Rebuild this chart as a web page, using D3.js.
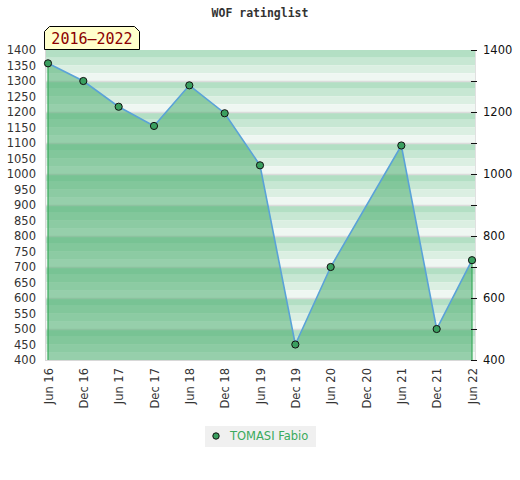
<!DOCTYPE html>
<html><head><meta charset="utf-8">
<script src="https://cdn.jsdelivr.net/npm/d3@7/dist/d3.min.js"></script>
<style>body{margin:0;background:#fff}svg{display:block}</style>
</head><body>
<svg id="c" width="520" height="480"></svg>
<script>
const title = "WOF ratinglist";
const periodLabel = "2016\u20132022";
const seriesName = "TOMASI Fabio";
const categories = ["Jun 16","Dec 16","Jun 17","Dec 17","Jun 18","Dec 18","Jun 19","Dec 19","Jun 20","Dec 20","Jun 21","Dec 21","Jun 22"];
const ratings = [1357,1300,1217,1155,1286,1196,1028,450,700,null,1092,500,722];
const leftTicks = d3.range(400,1401,50);
const rightTicks = d3.range(400,1401,100);
const rightLabels = [400,600,800,1000,1200,1400];
const bandColors = ["#b3dfc4","#c7e7d3","#dbefe2","#eff7f2"];

const svg = d3.select("#c");
const L=45, R=475, T=50, B=360;
const x = d3.scalePoint().domain(categories).range([48,472]);
const y = d3.scaleLinear().domain([400,1400]).range([B,T]);

// title
svg.append("text").attr("x",260).attr("y",17).attr("text-anchor","middle")
  .attr("font-family","DejaVu Sans Mono").attr("font-weight","bold").attr("font-size",11.5)
  .attr("fill","#333").text(title);

// background bands
const g = svg.append("g");
d3.range(400,1400,100).forEach(base=>{
  bandColors.forEach((c,i)=>{
    const top = base+100-25*i, bot = base+100-25*(i+1);
    g.append("rect").attr("x",L).attr("width",R-L).attr("y",y(top)).attr("height",y(bot)-y(top)).attr("fill",c);
  });
});
d3.range(500,1400,100).forEach(v=>{
  g.append("line").attr("x1",L).attr("x2",R).attr("y1",Math.round(y(v))+0.5).attr("y2",Math.round(y(v))+0.5)
   .attr("stroke","#dcdcdc").attr("stroke-width",1.5);
});
// border
g.append("line").attr("x1",L+0.5).attr("x2",L+0.5).attr("y1",T).attr("y2",B).attr("stroke","#d8d8d8");
g.append("line").attr("x1",L).attr("x2",R+1).attr("y1",B+0.5).attr("y2",B+0.5).attr("stroke","#d8d8d8");
g.append("line").attr("x1",R+0.5).attr("x2",R+0.5).attr("y1",T).attr("y2",B).attr("stroke","#e0e0e0");

const pts = categories.map((c,i)=>({c, v:ratings[i]})).filter(d=>d.v!==null);

// area
const area = d3.area().x(d=>x(d.c)).y0(B).y1(d=>y(d.v));
svg.append("path").datum(pts).attr("d",area).attr("fill","rgba(62,168,100,0.5)");
// side edges
[pts[0], pts[pts.length-1]].forEach(d=>{
  svg.append("line").attr("x1",x(d.c)).attr("x2",x(d.c)).attr("y1",y(d.v)).attr("y2",B)
    .attr("stroke","#3aaa5c").attr("stroke-width",1.2);
});
// line
const line = d3.line().x(d=>x(d.c)).y(d=>y(d.v));
svg.append("path").datum(pts).attr("d",line).attr("fill","none").attr("stroke","#5aa2d8").attr("stroke-width",1.6);
// markers
svg.selectAll("circle.m").data(pts).enter().append("circle").attr("class","m")
  .attr("cx",d=>x(d.c)).attr("cy",d=>y(d.v)).attr("r",3.6)
  .attr("fill","#3a9f5f").attr("stroke","#111").attr("stroke-width",1);

// left axis
const la = svg.append("g").attr("transform",`translate(${L},0)`)
  .call(d3.axisLeft(y).tickValues(leftTicks).tickSize(0).tickPadding(9).tickFormat(d3.format("d")));
la.select(".domain").remove();
la.selectAll("text").attr("font-family","DejaVu Sans").attr("font-size",11.5).attr("fill","#333");

// right axis
const ra = svg.append("g").attr("transform",`translate(${R-1},0)`)
  .call(d3.axisRight(y).tickValues(rightTicks).tickSize(3).tickPadding(6)
    .tickFormat(v=>rightLabels.includes(v)?d3.format("d")(v):""));
ra.select(".domain").remove();
ra.selectAll("line").attr("x1",-3).attr("stroke","#111");
ra.selectAll("text").attr("font-family","DejaVu Sans").attr("font-size",11.5).attr("fill","#111");

// bottom axis
const ba = svg.append("g").attr("transform",`translate(0,${B})`)
  .call(d3.axisBottom(x).tickSize(0).tickPadding(0));
ba.select(".domain").remove();
ba.selectAll("text").attr("font-family","DejaVu Sans").attr("font-size",11.5).attr("fill","#333")
  .attr("text-anchor","end").attr("transform","rotate(-90)").attr("x",-8).attr("y",0).attr("dy","0.35em");

// period box
const bx=44.5, by=26.5, bw=95, bh=23, cut=5;
svg.append("path").attr("d",`M${bx},${by+bh}V${by+cut}L${bx+cut},${by}H${bx+bw-cut}L${bx+bw},${by+cut}V${by+bh}Z`)
  .attr("fill","#ffffcc").attr("stroke","#000").attr("stroke-width",1);
svg.append("text").attr("x",bx+bw/2).attr("y",by+17).attr("text-anchor","middle")
  .attr("font-family","DejaVu Sans Mono").attr("font-size",15).attr("fill","#8b0000").text(periodLabel);

// legend
const lg = svg.append("g");
lg.append("rect").attr("x",205).attr("y",426).attr("width",111).attr("height",21).attr("fill","#f0f0f0");
lg.append("circle").attr("cx",216).attr("cy",436).attr("r",3.2).attr("fill","#3a9f5f").attr("stroke","#111");
lg.append("text").attr("x",230).attr("y",440).attr("font-family","DejaVu Sans").attr("font-size",11.5)
  .attr("fill","#3aaa5c").text(seriesName);
</script>
</body></html>
